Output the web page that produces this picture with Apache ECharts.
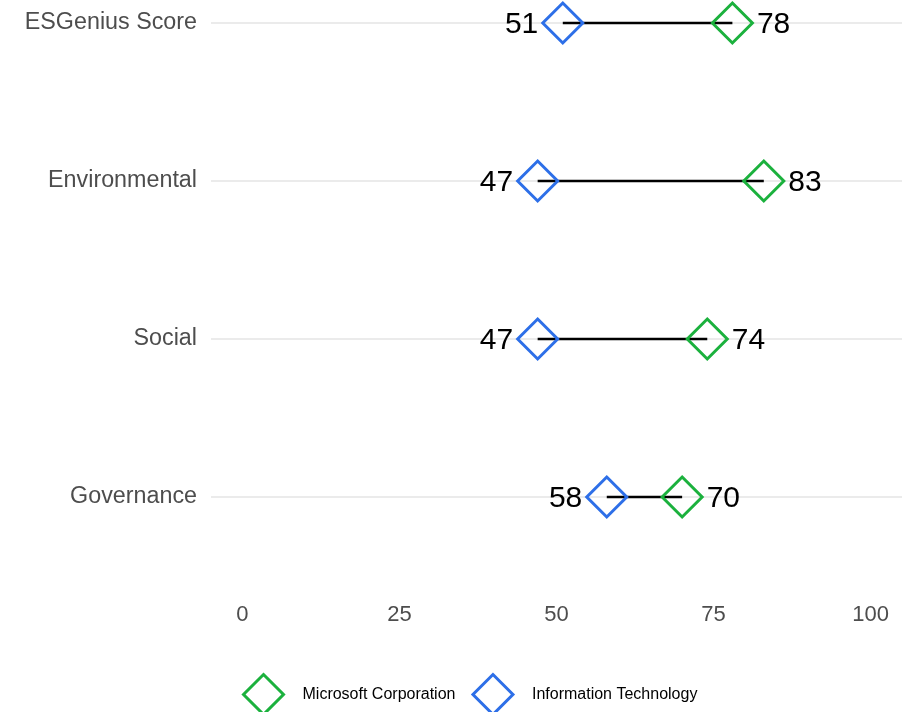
<!DOCTYPE html>
<html>
<head>
<meta charset="utf-8">
<script src="https://cdn.jsdelivr.net/npm/echarts@6/dist/echarts.min.js"></script>
<style>
html,body{margin:0;padding:0;background:#fff;}
#chart{width:912px;height:712px;}
</style>
</head>
<body>
<div id="chart"></div>
<script>
const categories = ['ESGenius Score', 'Environmental', 'Social', 'Governance'];
const microsoftValues = [78, 83, 74, 70];
const itValues = [51, 47, 47, 58];
const xTicks = [0, 25, 50, 75, 100];
const seriesNames = ['Microsoft Corporation', 'Information Technology'];

const GREEN = '#1BB13D';
const BLUE = '#2D6FE8';

const chart = echarts.init(document.getElementById('chart'), null, {renderer: 'canvas'});

const segData = categories.map((c, i) => [itValues[i], microsoftValues[i], i]);

const option = {
  animation: false,
  backgroundColor: '#ffffff',
  textStyle: {fontFamily: 'Liberation Sans, Arial, sans-serif'},
  grid: {left: 211, right: 10, top: 23, bottom: 215, containLabel: false},
  xAxis: {
    type: 'value', min: -5, max: 105,
    axisLine: {show: false}, axisTick: {show: false},
    splitLine: {show: false},
    axisLabel: {
      customValues: xTicks,
      color: '#4D4D4D', fontSize: 22, margin: 107,
      fontFamily: 'Liberation Sans, Arial, sans-serif'
    }
  },
  yAxis: {
    type: 'category', data: categories, inverse: true, boundaryGap: false,
    axisLine: {show: false}, axisTick: {show: false},
    axisLabel: {color: '#4D4D4D', fontSize: 23.3, margin: 14,
      verticalAlign: 'middle', lineHeight: 28,
      fontFamily: 'Liberation Sans, Arial, sans-serif'},
    splitLine: {show: true, lineStyle: {color: '#EBEBEB', width: 2}}
  },
  legend: {
    left: 237, top: 668, itemWidth: 40, itemHeight: 40, itemGap: 16,
    icon: 'diamond',
    textStyle: {fontSize: 16, color: '#000', padding: [0, 0, 0, 14],
      fontFamily: 'Liberation Sans, Arial, sans-serif'},
    data: [
      {name: seriesNames[0], itemStyle: {color: 'transparent', borderColor: GREEN, borderWidth: 3}},
      {name: seriesNames[1], itemStyle: {color: 'transparent', borderColor: BLUE, borderWidth: 3}}
    ]
  },
  series: [
    {
      type: 'custom',
      silent: true,
      data: segData,
      encode: {x: [0, 1], y: 2},
      renderItem: function (params, api) {
        const p1 = api.coord([api.value(0), api.value(2)]);
        const p2 = api.coord([api.value(1), api.value(2)]);
        return {
          type: 'line',
          shape: {x1: p1[0], y1: p1[1], x2: p2[0], y2: p2[1]},
          style: {stroke: '#000', lineWidth: 2.5}
        };
      },
      z: 1
    },
    {
      name: seriesNames[0], type: 'scatter', symbol: 'diamond', symbolSize: 40,
      data: microsoftValues.map((v, i) => [v, i]),
      itemStyle: {color: 'transparent', borderColor: GREEN, borderWidth: 3, opacity: 1},
      label: {show: true, position: 'right', distance: 3, color: '#000', fontSize: 30,
        offset: [0, 2],
        fontFamily: 'Liberation Sans, Arial, sans-serif',
        formatter: p => String(p.value[0])},
      z: 2
    },
    {
      name: seriesNames[1], type: 'scatter', symbol: 'diamond', symbolSize: 40,
      data: itValues.map((v, i) => [v, i]),
      itemStyle: {color: 'transparent', borderColor: BLUE, borderWidth: 3, opacity: 1},
      label: {show: true, position: 'left', distance: 3, color: '#000', fontSize: 30,
        offset: [0, 2],
        fontFamily: 'Liberation Sans, Arial, sans-serif',
        formatter: p => String(p.value[0])},
      z: 2
    }
  ]
};
chart.setOption(option);
</script>
</body>
</html>
